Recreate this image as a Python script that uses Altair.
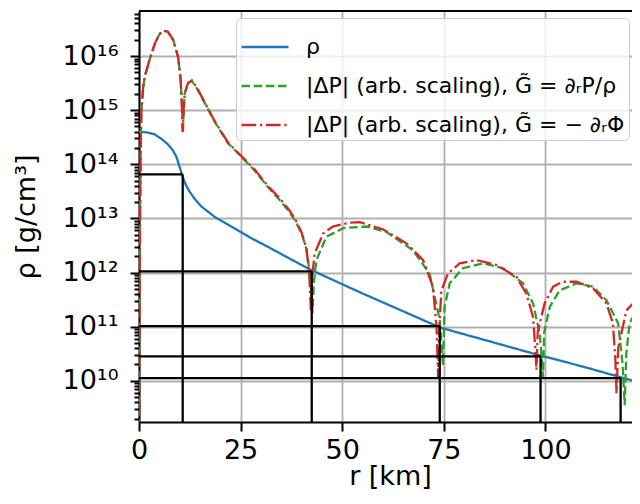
import altair as alt
import pandas as pd

FONT = "DejaVu Sans"

S_RHO = "ρ"
S_G1 = "|ΔP| (arb. scaling), G̃ = ∂ᵣP/ρ"
S_G2 = "|ΔP| (arb. scaling), G̃ = − ∂ᵣΦ"
SERIES = [S_RHO, S_G1, S_G2]
COLORS = ["#1f77b4", "#2ca02c", "#d62728"]
DASHES = [[1, 0], [8.5, 3.7], [14.7, 3.7, 2.3, 3.7]]

# density profile: radius [km], log10(rho [g/cm^3])
r_rho = [0, 2, 3.9, 5.5, 7.1, 8.3, 9.2, 10.0, 10.8, 11.5, 12.5, 13.5, 15.35, 18.6,
         23.55, 27.5, 31.7, 36.5, 41.6, 46.9, 55.1, 63.3, 74.2, 83.8, 98.6, 109.3,
         118.3, 125]
lg_rho = [14.60, 14.59, 14.55, 14.47, 14.37, 14.26, 14.14, 13.95, 13.76, 13.62, 13.49,
          13.38, 13.22, 13.03, 12.815, 12.64, 12.475, 12.28, 12.075, 11.89, 11.61,
          11.34, 10.98, 10.78, 10.47, 10.26, 10.07, 9.93]

# |dP|, G = d_r P / rho (green)
r_dp1 = [0, 0.1, 0.25, 0.45, 0.6, 1.0, 1.4, 2.6, 3.9, 5.0, 5.9, 7.1, 8.4, 9.6, 10.2,
         10.5, 10.8, 11.0, 11.25, 12.05, 13.0, 14.5, 16.2, 18.6, 21.9, 25.2, 28.5,
         31.7, 34.5, 36.7, 38.5, 40.0, 41.2, 42.0, 42.4, 42.7, 43.0, 43.65, 46.1,
         50.2, 56.0, 60.9, 67.4, 71.5, 74.0, 74.6, 74.8, 75.0, 75.2, 76.45, 79.7,
         84.6, 89.6, 94.5, 96.95, 98.6, 99.2, 99.4, 99.7, 101.1, 103.5, 107.6, 111.7,
         115.0, 117.9, 119.0, 119.5, 119.9, 120.7, 122.4, 125.0]
lg_dp1 = [8.0, 10.5, 13.0, 14.5, 15.0, 15.4, 15.62, 15.93, 16.23, 16.40, 16.47, 16.45,
          16.30, 15.99, 15.6, 15.2, 14.57, 15.0, 15.31, 15.50, 15.54, 15.37, 15.13,
          14.79, 14.39, 14.14, 13.88, 13.58, 13.35, 13.15, 12.95, 12.72, 12.43, 12.0,
          11.6, 11.25, 11.8, 12.23, 12.66, 12.82, 12.85, 12.75, 12.41, 11.98, 11.12,
          10.5, 10.29, 10.9, 11.37, 11.80, 12.08, 12.17, 12.08, 11.80, 11.43, 10.87,
          10.3, 10.07, 10.9, 11.37, 11.67, 11.80, 11.74, 11.49, 11.06, 10.3, 9.55,
          10.5, 11.06, 11.30, 11.48]

# |dP|, G = -d_r Phi (red)
r_dp2 = [0, 0.1, 0.25, 0.45, 0.6, 1.0, 1.4, 2.6, 3.9, 5.0, 5.9, 7.1, 8.4, 9.6, 10.2,
         10.5, 10.75, 11.0, 11.25, 12.05, 13.0, 14.5, 16.2, 18.6, 21.9, 25.2, 28.5,
         31.7, 34.5, 36.7, 38.5, 40.0, 41.2, 41.9, 42.3, 42.6, 43.2, 45.3, 47.7,
         51.8, 54.3, 60.0, 65.8, 69.9, 72.3, 73.2, 73.6, 73.9, 74.4, 76.0, 78.9,
         83.0, 87.9, 92.9, 95.3, 96.95, 97.5, 97.8, 98.1, 99.8, 101.9, 104.3, 107.6,
         111.7, 115.0, 116.6, 117.2, 117.5, 117.9, 119.9, 121.6, 123.2, 125.0]
lg_dp2 = [8.0, 10.5, 13.0, 14.5, 15.0, 15.4, 15.62, 15.93, 16.23, 16.40, 16.47, 16.45,
          16.30, 15.99, 15.6, 15.2, 14.6, 15.05, 15.31, 15.50, 15.55, 15.38, 15.14,
          14.80, 14.40, 14.15, 13.90, 13.60, 13.38, 13.18, 12.98, 12.74, 12.45, 11.95,
          11.3, 11.9, 12.35, 12.72, 12.85, 12.92, 12.93, 12.80, 12.54, 12.23, 11.74,
          11.0, 10.07, 11.0, 11.67, 11.98, 12.17, 12.23, 12.14, 11.92, 11.61, 11.18,
          10.6, 10.2, 10.9, 11.43, 11.74, 11.83, 11.83, 11.71, 11.43, 11.06, 10.4,
          9.77, 10.6, 11.30, 11.43, 11.52, 11.6]

# shell markers (black lines)
r_shell = [10.75, 42.5, 74.0, 98.8, 118.5]
rho_shell = [6.5e13, 1.05e12, 1.02e11, 2.83e10, 1.12e10]

x_ticks = [0, 25, 50, 75, 100]
W, H = 493, 411
X_MIN, X_MAX = 0, 121.3
Y_MIN, Y_MAX = 1.73e9, 6.8e16

y_major = [10.0 ** e for e in range(10, 17)]
y_all = sorted(set(y_major + [m * 10.0 ** d for d in range(9, 17) for m in range(2, 10)
                              if Y_MIN <= m * 10.0 ** d <= Y_MAX]))

rows = []
for name, rs, ls in [(S_RHO, r_rho, lg_rho), (S_G1, r_dp1, lg_dp1), (S_G2, r_dp2, lg_dp2)]:
    for i, (r, l) in enumerate(zip(rs, ls)):
        rows.append({"series": name, "r": r, "val": 10.0 ** l, "i": i})
df = pd.DataFrame(rows)

df_shell = pd.DataFrame({"r": r_shell, "rho": rho_shell, "r0": [0] * len(r_shell),
                         "floor": [Y_MIN] * len(r_shell)})

xscale = alt.Scale(domain=[X_MIN, X_MAX], nice=False, zero=False)
yscale = alt.Scale(type="log", domain=[Y_MIN, Y_MAX], nice=False)

is_major = "abs(log(datum.value)/LN10 - round(log(datum.value)/LN10)) < 0.001"
sup = {10: "¹⁰", 11: "¹¹", 12: "¹²", 13: "¹³", 14: "¹⁴", 15: "¹⁵", 16: "¹⁶"}
e_expr = "round(log(datum.value)/LN10)"
lab = "''"
for e in sorted(sup, reverse=True):
    lab = f"({e_expr} == {e} ? '10{sup[e]}' : {lab})"
label_expr = f"({is_major}) ? {lab} : ''"

x_axis = alt.Axis(values=x_ticks, format="d", tickSize=9, tickWidth=2, tickColor="black",
                  domainColor="black", domainWidth=2, labelFontSize=27, labelFont=FONT,
                  labelColor="black", labelPadding=6, labelFlush=False,
                  title="r [km]", titleFont=FONT, titleFontSize=27, titleFontWeight="normal",
                  titleColor="black", titleX=251, titleY=62,
                  titleAlign="center", titleBaseline="alphabetic",
                  grid=True, gridColor="#b0b0b0", gridWidth=1.8)
y_axis = alt.Axis(values=y_all, labelExpr=label_expr, labelOverlap=False,
                  tickSize={"condition": {"test": is_major, "value": 9}, "value": 5},
                  tickWidth=2, tickColor="black", domainColor="black", domainWidth=2,
                  labelFontSize=27, labelFont=FONT, labelColor="black", labelPadding=12,
                  title="ρ [g/cm³]", titleFont=FONT, titleFontSize=27,
                  titleFontWeight="normal", titleColor="black", titleAngle=270,
                  titleX=-113, titleY=H / 2, titleAlign="center", titleBaseline="middle",
                  grid=True, gridColor="#b0b0b0", gridWidth=1.8,
                  gridOpacity={"condition": {"test": is_major, "value": 1}, "value": 0})

legend = alt.Legend(title=None, orient="none", legendX=97, legendY=7, symbolType="stroke",
                    symbolSize=2209, symbolStrokeWidth=2.3, labelFontSize=22, labelFont=FONT,
                    labelColor="black", labelOffset=16, labelLimit=600, rowPadding=3,
                    padding=4, fillColor="rgba(255,255,255,0.8)", strokeColor="#cccccc",
                    cornerRadius=5)

color = alt.Color("series:N", scale=alt.Scale(domain=SERIES, range=COLORS), legend=legend)
dash = alt.StrokeDash("series:N", scale=alt.Scale(domain=SERIES, range=DASHES), legend=legend)

X = lambda f: alt.X(f, scale=xscale, axis=x_axis)
Y = lambda f: alt.Y(f, scale=yscale, axis=y_axis)

base = alt.Chart(df)
layers = []
for name in SERIES:
    layers.append(
        base.transform_filter(alt.datum.series == name)
        .mark_line(clip=True, strokeWidth=2.3)
        .encode(x=X("r:Q"), y=Y("val:Q"), color=color, strokeDash=dash, order="i:Q")
    )

hlines = alt.Chart(df_shell).mark_rule(color="black", strokeWidth=2.3, clip=True).encode(
    x=X("r0:Q"), x2="r:Q", y=Y("rho:Q"))
vlines = alt.Chart(df_shell).mark_rule(color="black", strokeWidth=2.3, clip=True).encode(
    x=X("r:Q"), y=Y("rho:Q"), y2="floor:Q")
top = alt.Chart(pd.DataFrame({"a": [0]})).mark_rule(color="black", strokeWidth=2).encode(
    x=alt.value(0), x2=alt.value(W), y=alt.value(0))

chart = alt.layer(*layers, hlines, vlines, top).properties(
    width=W, height=H, autosize="none",
    padding={"left": 131, "top": 3, "right": 0, "bottom": 67},
    background="white",
).configure_view(stroke=None)

chart.save("out.html", embed_options={"renderer": "svg", "actions": False})
